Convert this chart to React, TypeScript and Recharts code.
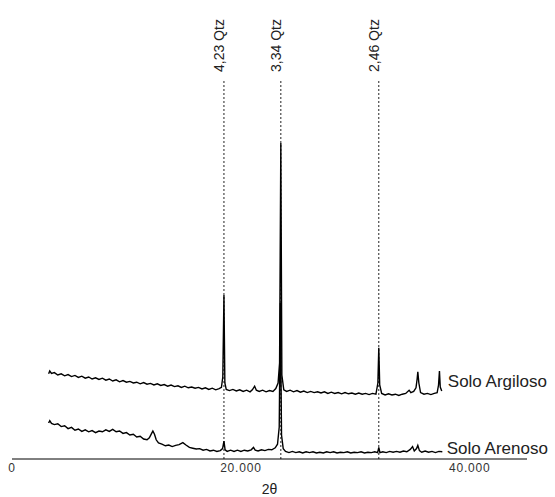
import { LineChart, Line, XAxis, YAxis, ReferenceLine, ReferenceDot } from "recharts"

// 2θ positions of the marked quartz reflections
const qtzPeaks = [18.52, 23.49, 32.05]
const qtzLabels = ["4,23 Qtz", "3,34 Qtz", "2,46 Qtz"]

const xTicks = [0, 20, 40]

// [2θ, intensity]
const soloArgiloso: number[][] = [
  [3.2, 21.3], [3.3, 22.0], [3.45, 21.4], [3.7, 21.6], [4.0, 21.0], [4.3, 21.3], [4.6, 20.8], [4.9, 21.1],
  [5.2, 20.6], [5.5, 20.9], [5.8, 20.4], [6.1, 20.7], [6.4, 20.2], [6.7, 20.5], [7.0, 20.0], [7.3, 20.3],
  [7.6, 19.9], [7.9, 20.2], [8.2, 19.7], [8.5, 20.0], [8.8, 19.5], [9.1, 19.8], [9.4, 19.3], [9.7, 19.6],
  [10.0, 19.2], [10.3, 19.4], [10.6, 19.0], [10.9, 19.2], [11.2, 18.8], [11.5, 19.1], [11.8, 18.7], [12.1, 18.9],
  [12.4, 18.5], [12.7, 18.8], [13.0, 18.4], [13.3, 18.6], [13.6, 18.2], [13.9, 18.5], [14.2, 18.1], [14.5, 18.3],
  [14.8, 17.9], [15.1, 18.2], [15.4, 17.8], [15.7, 18.0], [16.0, 17.7], [16.3, 17.9], [16.6, 17.5], [16.9, 17.8],
  [17.2, 17.4], [17.5, 17.7], [17.8, 17.3], [18.1, 17.6], [18.3, 17.9], [18.42, 20.5], [18.52, 41.0], [18.6, 19.0],
  [18.72, 17.4], [19.0, 17.1], [19.3, 17.4], [19.6, 17.0], [19.9, 17.3], [20.2, 16.9], [20.5, 17.2], [20.8, 16.8],
  [21.0, 17.3], [21.2, 18.2], [21.35, 17.2], [21.6, 16.9], [21.9, 17.2], [22.2, 16.8], [22.5, 17.1], [22.8, 16.9],
  [23.05, 17.6], [23.25, 19.0], [23.38, 24.0], [23.49, 79.0], [23.58, 21.0], [23.75, 17.3], [24.0, 16.9], [24.3, 17.2],
  [24.6, 16.8], [24.9, 17.1], [25.2, 16.7], [25.5, 17.0], [25.8, 16.6], [26.1, 16.9], [26.4, 16.6], [26.7, 16.8],
  [27.0, 16.5], [27.3, 16.8], [27.6, 16.4], [27.9, 16.7], [28.2, 16.4], [28.5, 16.6], [28.8, 16.3], [29.1, 16.6],
  [29.4, 16.3], [29.7, 16.5], [30.0, 16.2], [30.3, 16.5], [30.6, 16.2], [30.9, 16.4], [31.2, 16.1], [31.5, 16.4],
  [31.8, 16.2], [31.97, 19.0], [32.05, 27.8], [32.13, 18.5], [32.3, 16.4], [32.6, 16.0], [32.9, 16.3], [33.2, 16.0],
  [33.5, 16.2], [33.8, 15.9], [34.1, 16.2], [34.4, 16.4], [34.7, 17.2], [34.85, 16.6], [35.1, 16.9], [35.3, 17.8],
  [35.4, 20.0], [35.46, 21.8], [35.55, 19.0], [35.7, 16.6], [36.0, 16.2], [36.3, 16.4], [36.6, 16.1], [36.9, 16.4],
  [37.15, 16.6], [37.27, 18.5], [37.35, 22.0], [37.42, 18.0], [37.55, 17.0],
]

const soloArenoso: number[][] = [
  [3.2, 9.0], [3.3, 9.6], [3.45, 8.9], [3.7, 8.6], [4.0, 8.8], [4.3, 8.1], [4.6, 8.3], [4.9, 7.6],
  [5.2, 7.9], [5.5, 7.2], [5.8, 7.5], [6.1, 6.9], [6.4, 7.3], [6.7, 6.8], [7.0, 7.1], [7.3, 6.6],
  [7.6, 7.0], [7.9, 6.8], [8.2, 7.3], [8.5, 6.9], [8.8, 7.4], [9.1, 6.8], [9.4, 7.0], [9.7, 6.4],
  [10.0, 6.6], [10.3, 6.0], [10.6, 6.2], [10.9, 5.5], [11.2, 5.7], [11.5, 5.0], [11.8, 4.8], [12.0, 5.3],
  [12.2, 6.4], [12.31, 7.0], [12.45, 6.2], [12.6, 4.8], [12.8, 4.0], [13.1, 3.7], [13.4, 3.3], [13.7, 3.5],
  [14.0, 3.1], [14.3, 3.4], [14.6, 3.6], [14.93, 4.1], [15.2, 3.5], [15.5, 2.9], [15.8, 2.7], [16.1, 2.5],
  [16.4, 2.6], [16.7, 2.2], [17.0, 2.4], [17.3, 2.0], [17.6, 2.2], [17.9, 1.9], [18.2, 2.1], [18.4, 2.6],
  [18.52, 4.5], [18.62, 2.3], [18.8, 1.9], [19.1, 2.2], [19.4, 1.9], [19.7, 2.2], [20.0, 1.9], [20.3, 2.2],
  [20.6, 2.0], [20.9, 2.3], [21.1, 2.9], [21.25, 2.2], [21.5, 2.0], [21.8, 2.3], [22.1, 2.1], [22.4, 2.4],
  [22.7, 2.3], [23.0, 2.8], [23.2, 3.7], [23.35, 8.0], [23.45, 39.0], [23.55, 6.0], [23.7, 2.6], [23.9, 1.9],
  [24.2, 1.6], [24.5, 1.9], [24.8, 1.6], [25.1, 1.8], [25.4, 1.5], [25.7, 1.8], [26.0, 1.6], [26.3, 1.8],
  [26.6, 1.5], [26.9, 1.7], [27.2, 1.5], [27.5, 1.8], [27.8, 1.6], [28.1, 1.8], [28.4, 1.5], [28.7, 1.7],
  [29.0, 1.6], [29.3, 1.8], [29.6, 1.5], [29.9, 1.7], [30.2, 1.6], [30.5, 1.8], [30.8, 1.5], [31.1, 1.7],
  [31.4, 1.6], [31.7, 1.8], [31.95, 1.6], [32.05, 2.9], [32.15, 1.6], [32.4, 1.8], [32.7, 1.6], [33.0, 1.9],
  [33.3, 1.7], [33.6, 1.9], [33.9, 1.7], [34.2, 2.0], [34.5, 1.8], [34.8, 2.4], [35.0, 3.1], [35.15, 2.0],
  [35.35, 2.6], [35.46, 3.4], [35.6, 2.1], [35.8, 1.7], [36.1, 2.0], [36.4, 1.7], [36.7, 1.9], [37.0, 1.6],
  [37.3, 1.9], [37.6, 1.8],
]

const argilosoData = soloArgiloso.map(([t, v]) => ({ t, v }))
const arenosoData = soloArenoso.map(([t, v]) => ({ t, v }))

const font = "'Liberation Sans', Arial, sans-serif"

const QtzLabel = (text: string) => (props: any) => {
  const { x, y } = props.viewBox
  const ty = y - 7
  return (
    <text x={x} y={ty} transform={`rotate(-90, ${x}, ${ty})`} fontSize={14} fill="#222" fontFamily={font}>
      {text}
    </text>
  )
}

const SeriesLabel = (text: string) => (props: any) => {
  const { x, y, width, height } = props.viewBox
  return (
    <text x={x + width / 2} y={y + height / 2} fontSize={17} fill="#222" fontFamily={font}>
      {text}
    </text>
  )
}

export default function App() {
  return (
    <div style={{ position: "absolute", left: 0, top: 0, fontFamily: font }}>
      <LineChart width={555} height={497} margin={{ top: 79, right: 28, left: 12, bottom: 0 }}>
        <XAxis
          type="number"
          dataKey="t"
          domain={[0, 45]}
          ticks={xTicks}
          tickFormatter={(v: number) => (v === 0 ? "0" : `${v}.000`)}
          tickLine={false}
          tickSize={0}
          tickMargin={4}
          height={38}
          axisLine={{ stroke: "#000" }}
          tick={{ fontSize: 12, fill: "#333", letterSpacing: 0.8, fontFamily: font }}
          label={{ value: "2θ", position: "insideBottom", offset: 3, fontSize: 14, fill: "#222", fontFamily: font }}
        />
        <YAxis type="number" domain={[0, 95]} hide />
        {qtzPeaks.map((p, i) => (
          <ReferenceLine key={p} x={p} stroke="#222" strokeDasharray="2 2" label={QtzLabel(qtzLabels[i])} />
        ))}
        <Line data={argilosoData} dataKey="v" type="linear" stroke="#000" strokeWidth={1.4} dot={false} isAnimationActive={false} />
        <Line data={arenosoData} dataKey="v" type="linear" stroke="#000" strokeWidth={1.4} dot={false} isAnimationActive={false} />
        <ReferenceDot x={38.08} y={18} r={1} fill="none" stroke="none" label={SeriesLabel("Solo Argiloso")} />
        <ReferenceDot x={37.99} y={1.25} r={1} fill="none" stroke="none" label={SeriesLabel("Solo Arenoso")} />
      </LineChart>
    </div>
  )
}
